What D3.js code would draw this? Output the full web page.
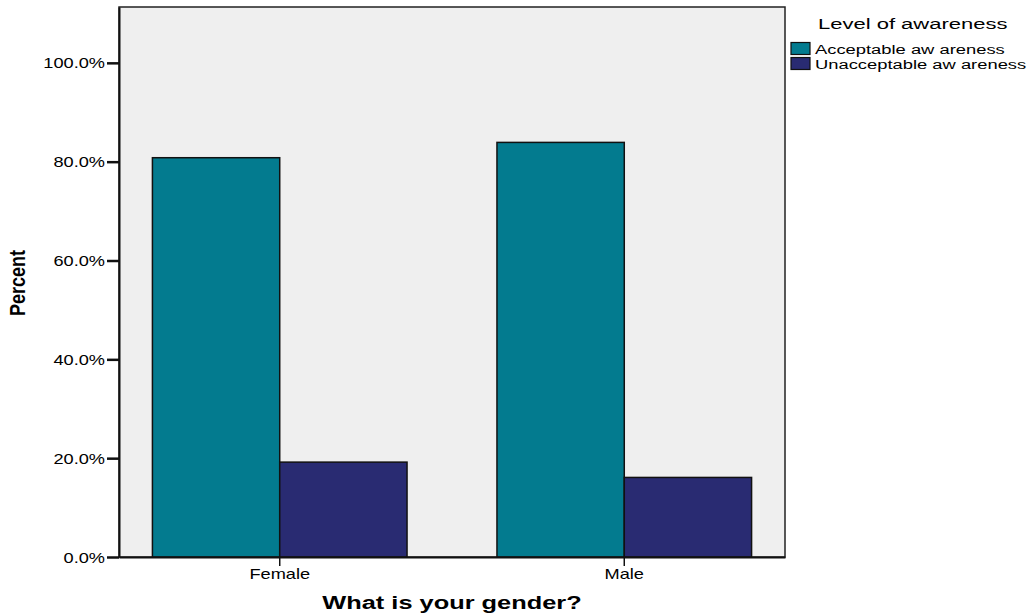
<!DOCTYPE html>
<html>
<head>
<meta charset="utf-8">
<script src="https://cdn.jsdelivr.net/npm/d3@7"></script>
<style>
  body { margin: 0; background: #ffffff; }
  svg { display: block; }
  text { font-family: "Liberation Sans", Arial, sans-serif; fill: #000; }
</style>
</head>
<body>
<svg id="chart" width="1035" height="614"></svg>
<script>
const categories = ["Female", "Male"];
const seriesNames = ["Acceptable aw areness", "Unacceptable aw areness"];
const acceptable = [80.8, 83.9];
const unacceptable = [19.2, 16.1];
const yTicks = [0, 20, 40, 60, 80, 100];
const colors = ["#037b8f", "#292b72"];
const legendTitle = "Level of awareness";
const xTitle = "What is your gender?";
const yTitle = "Percent";

const svg = d3.select("#chart");
const plot = { left: 119, right: 785, top: 7, bottom: 557 };

const x = d3.scaleBand().domain(categories)
  .range([plot.left, plot.right]).paddingInner(0.261).paddingOuter(0.097);
const xSub = d3.scaleBand().domain(seriesNames).range([0, x.bandwidth()]);
const y = d3.scaleLinear().domain([0, 111.3]).range([plot.bottom, plot.top]);

// plot background
svg.append("rect")
  .attr("x", plot.left).attr("y", plot.top)
  .attr("width", plot.right - plot.left).attr("height", plot.bottom - plot.top)
  .attr("fill", "#efefef").attr("stroke", "#222").attr("stroke-width", 1.5);

const data = categories.map((c, i) => ({
  cat: c,
  values: [
    { s: seriesNames[0], v: acceptable[i], c: colors[0] },
    { s: seriesNames[1], v: unacceptable[i], c: colors[1] }
  ]
}));

const groups = svg.append("g").selectAll("g").data(data).join("g")
  .attr("transform", d => `translate(${x(d.cat)},0)`);
groups.selectAll("rect").data(d => d.values).join("rect")
  .attr("x", d => xSub(d.s))
  .attr("y", d => y(d.v))
  .attr("width", xSub.bandwidth())
  .attr("height", d => y(0) - y(d.v))
  .attr("fill", d => d.c)
  .attr("stroke", "#111").attr("stroke-width", 1.5);

// Y axis
const sx = 1.3;
const yAxis = svg.append("g").attr("transform", `translate(${plot.left},0)`)
  .call(d3.axisLeft(y).tickValues(yTicks).tickSize(12).tickSizeOuter(0)
    .tickFormat(d => d3.format(".1f")(d) + "%"));
yAxis.select(".domain").attr("stroke", "#111").attr("stroke-width", 2);
yAxis.selectAll(".tick line").attr("stroke", "#111").attr("stroke-width", 2.5);
yAxis.selectAll(".tick text")
  .attr("x", -14 / sx).attr("dy", "0.36em")
  .attr("transform", `scale(${sx},1)`)
  .style("font-size", "14px").attr("fill", "#111");

// X axis
const xAxis = svg.append("g").attr("transform", `translate(0,${plot.bottom})`)
  .call(d3.axisBottom(x).tickSize(9).tickSizeOuter(0).tickPadding(4));
xAxis.select(".domain").attr("stroke", "#111").attr("stroke-width", 2);
xAxis.selectAll(".tick line").attr("stroke", "#111").attr("stroke-width", 1.5);
xAxis.selectAll(".tick text")
  .attr("transform", `scale(${sx},1)`)
  .attr("y", 12).attr("dy", "0.71em")
  .style("font-size", "14px").attr("fill", "#111");

// Axis titles
svg.append("text")
  .attr("transform", `translate(452,609) scale(1.41,1)`)
  .attr("text-anchor", "middle")
  .style("font-size", "18px").style("font-weight", "bold")
  .text(xTitle);

svg.append("text")
  .attr("transform", `translate(25,283) rotate(-90) scale(1,1.2)`)
  .attr("text-anchor", "middle")
  .style("font-size", "18px").style("font-weight", "bold")
  .text(yTitle);

// Legend
svg.append("text")
  .attr("transform", `translate(818,29) scale(1.42,1)`)
  .style("font-size", "15.5px")
  .text(legendTitle);

const leg = svg.append("g").selectAll("g").data(seriesNames).join("g")
  .attr("transform", (d, i) => `translate(791,${42.5 + i * 15})`);
leg.append("rect")
  .attr("width", 19).attr("height", 12)
  .attr("fill", (d, i) => colors[i])
  .attr("stroke", "#111").attr("stroke-width", 1.2);
leg.append("text")
  .attr("transform", "translate(24,11) scale(1.36,1)")
  .style("font-size", "13.5px")
  .text(d => d);
</script>
</body>
</html>
